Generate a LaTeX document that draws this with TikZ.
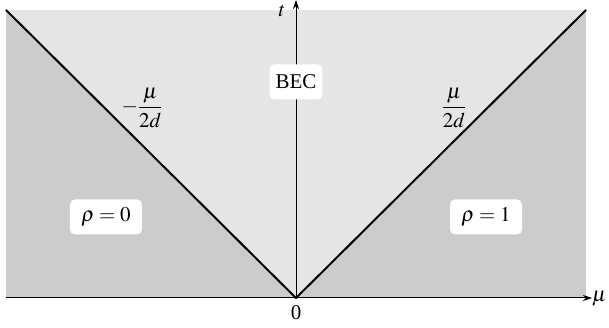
\documentclass[tikz,border=0pt]{standalone}
\usepackage{amsmath,amssymb}
\usepackage{mathptmx}
\usepackage{fontspec}
\setmainfont{Liberation Serif}
\usepackage{tikz}
\usetikzlibrary{arrows.meta}

\begin{document}
\begin{tikzpicture}[x = 1pt, y = 1pt, font = \fontsize{21}{25}\selectfont,
        lbl/.style = {fill=white, rounded corners=5pt, inner xsep=6pt, minimum height=35pt},
        phase/.style = {lbl, minimum width=72pt}]
        \useasboundingbox (-296,-30) rectangle (313,298);
        % regions
        \fill[black!20] (-290,0) rectangle (290,288);
        \fill[black!10] (0,0) -- (-290,288) -- (290,288) -- cycle;
        % axes
        \coordinate (o) at (0,0);
        \coordinate (mumin) at (-290,0);
        \coordinate (mumax) at (296,0);
        \coordinate (tmax) at (0,298);
        \draw[line width=1pt, -{Stealth[length=9pt, width=6pt]}] (mumin) -- (mumax);
        \draw[line width=1pt, -{Stealth[length=9pt, width=6pt]}] (o) -- (tmax);
        \node[anchor=west, inner sep=0pt] (mulbl) at (296,-1) {$\mu$};
        \node (tlbl) at (-14,287) {$t$};
        \node (zero) at (0,-15) {0};
        % phase boundaries
        \coordinate (left) at (-290,288);
        \coordinate (right) at (290,288);
        \draw[line width=2pt] (left) -- (o) -- (right);
        \node (lline) at (-154,190) {$-\dfrac{\mu}{2d}$};
        \node (rline) at (158,190) {$\dfrac{\mu}{2d}$};
        \node[lbl] (bec) at (0,216) {BEC};
        \node[phase] (empty) at (-190,81) {$\rho = 0$};
        \node[phase] (full) at (190,81) {$\rho = 1$};
      \end{tikzpicture}
\end{document}
